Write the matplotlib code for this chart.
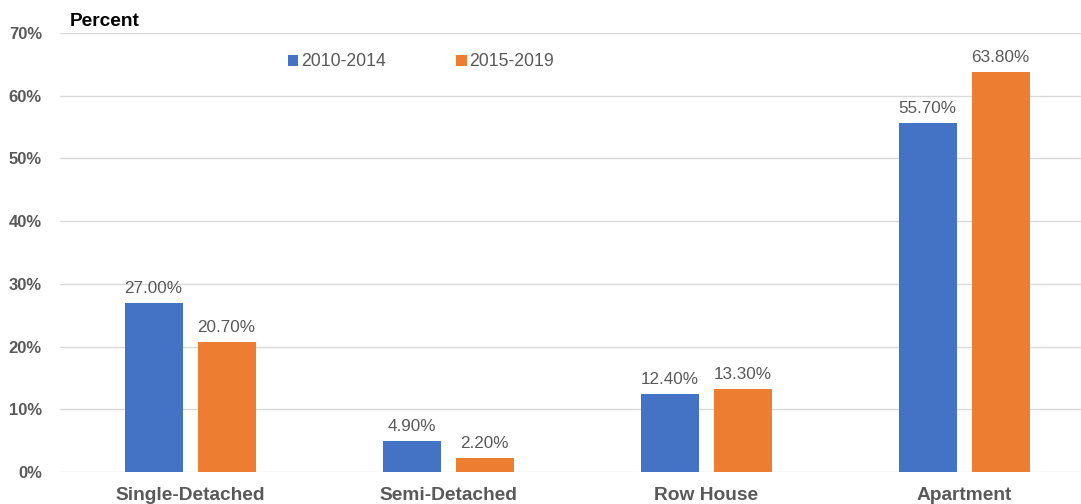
import matplotlib
matplotlib.use("Agg")
import matplotlib.pyplot as plt
import numpy as np

plt.rcParams['font.family'] = ['Liberation Sans', 'DejaVu Sans']

categories = ["Single-Detached", "Semi-Detached", "Row House", "Apartment"]
series_names = ["2010-2014", "2015-2019"]
vals_2010 = [27.0, 4.9, 12.4, 55.7]
vals_2015 = [20.7, 2.2, 13.3, 63.8]
yticks = [0, 10, 20, 30, 40, 50, 60, 70]

blue = "#4472C4"
orange = "#ED7D31"
grey = "#595959"

fig = plt.figure(figsize=(10.81, 5.04), dpi=100)
ax = fig.add_axes([60/1081, 1-472/504, 1-60/1081, (472-33)/504])

x = np.arange(len(categories))
w = 0.225
off = 0.1415
b1 = ax.bar(x - off, vals_2010, w, color=blue, label=series_names[0], zorder=3)
b2 = ax.bar(x + off, vals_2015, w, color=orange, label=series_names[1], zorder=3)

for bars, vals in ((b1, vals_2010), (b2, vals_2015)):
    for r, v in zip(bars, vals):
        ax.text(r.get_x() + r.get_width()/2, v + 1.1, f"{v:.2f}%", ha="center",
                va="bottom", fontsize=12.3, color=grey)

ax.set_xlim(-0.504, 3.453)
ax.set_ylim(0, 70)
ax.set_yticks(yticks)
ax.set_yticklabels([f"{t}%" for t in yticks], fontweight="bold", fontsize=12, color=grey)
ax.set_xticks(x)
ax.set_xticklabels(categories, fontweight="bold", fontsize=13.8, color=grey)
ax.tick_params(axis="both", length=0)
ax.tick_params(axis="y", pad=13)
ax.tick_params(axis="x", pad=11)
ax.grid(axis="y", color="#D9D9D9", linewidth=1, zorder=0)
for s in ax.spines.values():
    s.set_visible(False)

fig.text(70/1081, 1-21/504, "Percent", fontweight="bold", fontsize=13.8, color="black",
         ha="left", va="center")

leg = ax.legend(loc="center", bbox_to_anchor=((421 - 60)/(1081 - 60), (472-62)/(472-33)),
                bbox_transform=ax.transAxes, ncol=2, frameon=False, fontsize=12.7,
                handlelength=0.6, handleheight=0.6, handletextpad=0.15, columnspacing=4.0)
for t in leg.get_texts():
    t.set_color(grey)

fig.savefig("out.png", dpi=100)
